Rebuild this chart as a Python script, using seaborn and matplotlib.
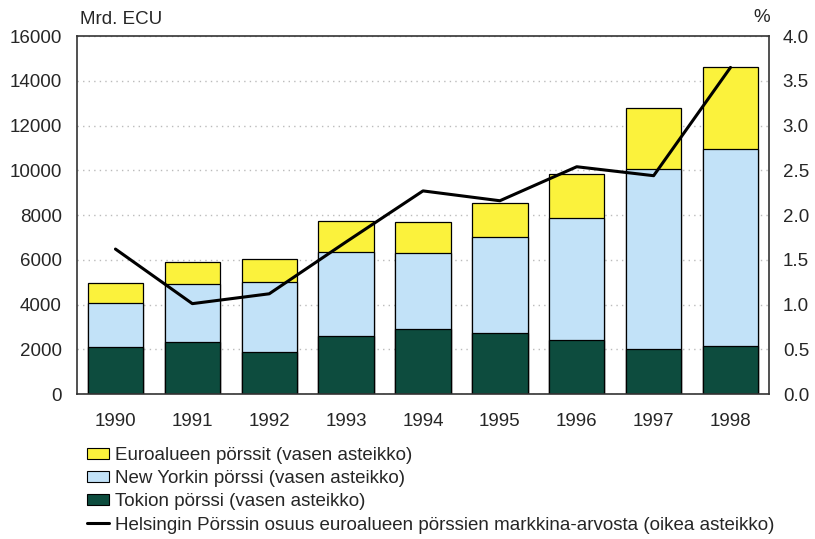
import numpy as np
import pandas as pd
import matplotlib
matplotlib.use("Agg")
import matplotlib.pyplot as plt
import seaborn as sns
from matplotlib.patches import Patch
from matplotlib.lines import Line2D

# ─────────────────────────────────────────────
# data
# ─────────────────────────────────────────────
years = ["1990", "1991", "1992", "1993", "1994", "1995", "1996", "1997", "1998"]
tokio = [2100, 2320, 1880, 2590, 2900, 2730, 2410, 2010, 2150]
new_york = [1970, 2600, 3130, 3760, 3400, 4290, 5460, 8050, 8800]
euro = [890, 980, 1030, 1390, 1390, 1520, 1970, 2730, 3670]
helsinki_share = [1.62, 1.01, 1.12, 1.70, 2.27, 2.16, 2.54, 2.44, 3.65]

labels = [
    "Euroalueen pörssit (vasen asteikko)",
    "New Yorkin pörssi (vasen asteikko)",
    "Tokion pörssi (vasen asteikko)",
    "Helsingin Pörssin osuus euroalueen pörssien markkina-arvosta (oikea asteikko)",
]

YELLOW = "#fbf23c"
BLUE = "#c2e2f8"
GREEN = "#0d4c3e"
FS = 13.5

sns.set_style("white")
plt.rcParams["font.family"] = ["Liberation Sans", "DejaVu Sans"]
plt.rcParams["font.size"] = FS

df = pd.DataFrame({"year": years, "tokio": tokio, "ny": new_york, "euro": euro})
df["ny_top"] = df["tokio"] + df["ny"]
df["total"] = df["ny_top"] + df["euro"]

fig = plt.figure(figsize=(8.15, 5.39), dpi=100)
ax = fig.add_axes([0.0945, 0.269, 0.849, 0.664])

# pinotut pylväät: kumulatiiviset summat päällekkäin
for col, color in [("total", YELLOW), ("ny_top", BLUE), ("tokio", GREEN)]:
    sns.barplot(data=df, x="year", y=col, color=color, width=0.72,
                edgecolor="black", linewidth=0.9, saturation=1, ax=ax, zorder=2)

ax.set_ylim(0, 16000)
ax.set_xlim(-0.5, 8.5)
ax.set_yticks(np.arange(0, 16001, 2000))
ax.set_xlabel("")
ax.set_ylabel("")
ax.yaxis.grid(True, linestyle=(0, (1, 3)), color="#bbbbbb", linewidth=1.0)
ax.set_axisbelow(True)
ax.tick_params(axis="y", length=0, pad=11, labelsize=FS)
ax.tick_params(axis="x", length=0, pad=14, labelsize=FS)
for side in ["left", "top", "right", "bottom"]:
    ax.spines[side].set_visible(True)
    ax.spines[side].set_color("#333333")
    ax.spines[side].set_linewidth(1.2)

ax2 = ax.twinx()
sns.lineplot(x=np.arange(len(years)), y=helsinki_share, color="black",
             linewidth=2.2, ax=ax2, zorder=5)
ax2.set_ylim(0, 4.0)
ax2.set_yticks(np.arange(0, 4.01, 0.5))
ax2.set_yticklabels([f"{v:.1f}" for v in np.arange(0, 4.01, 0.5)])
ax2.tick_params(axis="y", length=0, pad=10, labelsize=FS)
ax2.set_xlim(-0.5, 8.5)
for side in ["left", "top", "right", "bottom"]:
    ax2.spines[side].set_visible(False)

fig.text(80 / 815, 1 - 20 / 539, "Mrd. ECU", fontsize=FS, va="center", ha="left")
fig.text(762 / 815, 1 - 18 / 539, "%", fontsize=FS, va="center", ha="center")

handles = [
    Patch(facecolor=YELLOW, edgecolor="black", linewidth=0.8),
    Patch(facecolor=BLUE, edgecolor="black", linewidth=0.8),
    Patch(facecolor=GREEN, edgecolor="black", linewidth=0.8),
    Line2D([0], [0], color="black", linewidth=2.2),
]
fig.legend(handles, labels, loc="upper left", bbox_to_anchor=(87 / 815, 1 - 447 / 539),
           frameon=False, fontsize=FS, handlelength=1.15, handleheight=0.55,
           handletextpad=0.35, labelspacing=0.33, borderaxespad=0, borderpad=0)

fig.savefig("out.png", dpi=100)
